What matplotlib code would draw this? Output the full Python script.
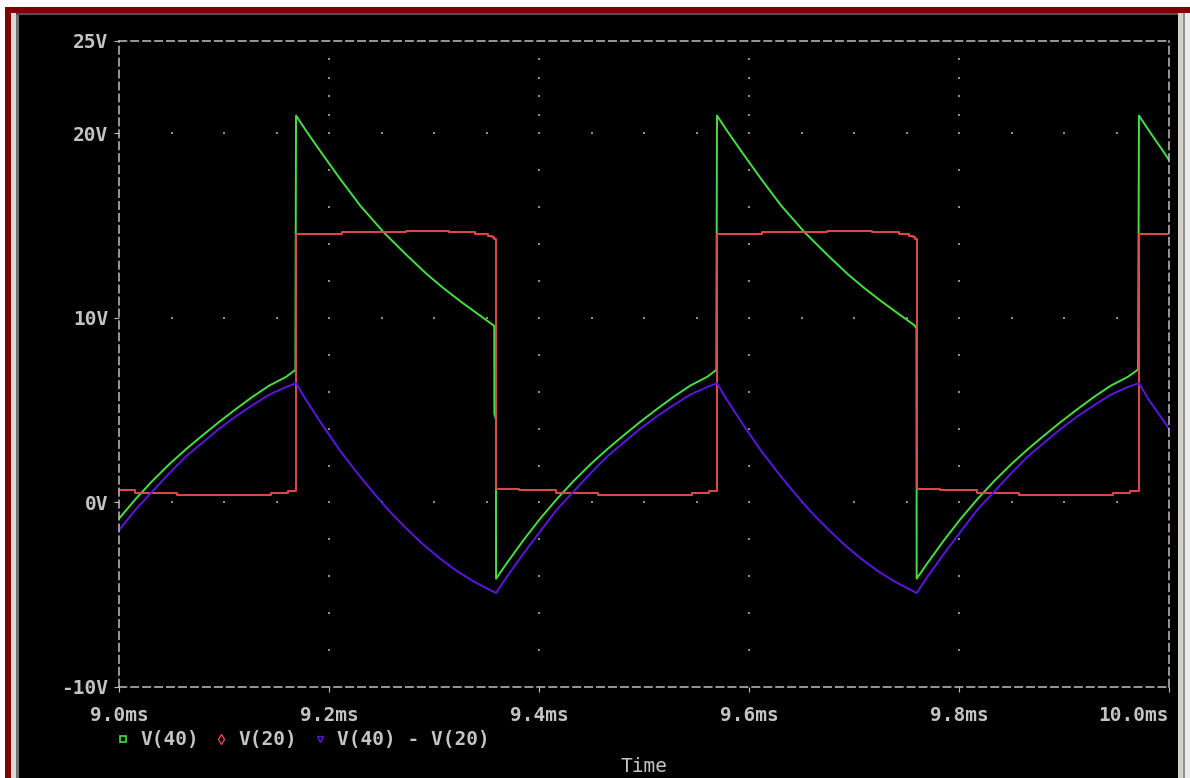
import numpy as np
import matplotlib
matplotlib.use('Agg')
import matplotlib.pyplot as plt
from matplotlib.patches import Rectangle
from matplotlib.lines import Line2D

# 字体设置：等宽字体模拟 PSpice 界面
plt.rcParams['font.family'] = ['DejaVu Sans Mono']
plt.rcParams['font.weight'] = 'bold'
plt.rcParams['lines.scale_dashes'] = False

# V(40) 波形 (时间 ms, 电压 V)
t_v40 = [9.0000, 9.0159, 9.0319, 9.0479, 9.0639, 9.0791, 9.0951, 9.1111, 9.1271, 9.1431, 9.1591, 9.1680,
         9.1686, 9.1791, 9.1946, 9.2106, 9.2296, 9.2520, 9.2743, 9.2933, 9.3092, 9.3251, 9.3410, 9.3568,
         9.3574, 9.3575, 9.3590, 9.3591,
         9.3691, 9.3851, 9.4011, 9.4171, 9.4331, 9.4491, 9.4651, 9.4801, 9.4961, 9.5121, 9.5281, 9.5441,
         9.5601, 9.5689,
         9.5695, 9.5800, 9.5955, 9.6115, 9.6305, 9.6529, 9.6752, 9.6942, 9.7101, 9.7260, 9.7419, 9.7577,
         9.7595, 9.7597,
         9.7697, 9.7857, 9.8017, 9.8177, 9.8337, 9.8497, 9.8657, 9.8807, 9.8967, 9.9127, 9.9287, 9.9447,
         9.9607, 9.9706,
         9.9714, 9.9819, 9.9972, 10.0000]
v40 = [-0.88, 0.19, 1.17, 2.07, 2.89, 3.61, 4.35, 5.05, 5.72, 6.33, 6.80, 7.18,
       20.96, 20.06, 18.80, 17.53, 16.09, 14.64, 13.38, 12.36, 11.60, 10.90, 10.24, 9.59,
       9.55, 4.80, 4.50, -4.13,
       -3.31, -2.05, -0.88, 0.19, 1.17, 2.07, 2.89, 3.61, 4.35, 5.05, 5.72, 6.33,
       6.80, 7.18,
       20.96, 20.06, 18.80, 17.53, 16.09, 14.64, 13.38, 12.36, 11.60, 10.90, 10.24, 9.59,
       9.44, -4.13,
       -3.31, -2.05, -0.88, 0.19, 1.17, 2.07, 2.89, 3.61, 4.35, 5.05, 5.72, 6.33,
       6.80, 7.20,
       20.96, 20.06, 18.80, 18.55]

# V(20) 波形 (阶梯)
t_v20 = [9.0000, 9.0151, 9.0551, 9.1451, 9.1611,
         9.1686, 9.2126, 9.2736, 9.3146, 9.3386, 9.3516, 9.3556, 9.3576,
         9.3591, 9.3811, 9.4161, 9.4561, 9.5461, 9.5621,
         9.5695, 9.6124, 9.6743, 9.7171, 9.7425, 9.7520, 9.7565, 9.7585,
         9.7597, 9.7817, 9.8167, 9.8567, 9.9467, 9.9627,
         9.9714, 10.0000]
v20 = [0.65, 0.52, 0.42, 0.52, 0.61,
       14.55, 14.64, 14.73, 14.64, 14.55, 14.46, 14.37, 14.28,
       0.74, 0.65, 0.52, 0.42, 0.52, 0.61,
       14.55, 14.64, 14.73, 14.64, 14.55, 14.46, 14.37, 14.28,
       0.74, 0.65, 0.52, 0.42, 0.52, 0.61,
       14.55, 14.55]

# V(40) - V(20) 波形
t_diff = [9.0000, 9.0159, 9.0319, 9.0479, 9.0639, 9.0791, 9.0951, 9.1111, 9.1271, 9.1431, 9.1591, 9.1686,
          9.1771, 9.1946, 9.2106, 9.2263, 9.2422, 9.2581, 9.2740, 9.2898, 9.3057, 9.3216, 9.3374, 9.3591,
          9.3691, 9.3851, 9.4011, 9.4171, 9.4331, 9.4491, 9.4651, 9.4801, 9.4961, 9.5121, 9.5281, 9.5441,
          9.5601, 9.5695,
          9.5780, 9.5955, 9.6115, 9.6272, 9.6431, 9.6590, 9.6749, 9.6907, 9.7066, 9.7225, 9.7383, 9.7597,
          9.7697, 9.7857, 9.8017, 9.8177, 9.8337, 9.8497, 9.8657, 9.8807, 9.8967, 9.9127, 9.9287, 9.9447,
          9.9607, 9.9714, 9.9799, 10.0000]
v_diff = [-1.50, -0.38, 0.60, 1.58, 2.50, 3.22, 3.98, 4.66, 5.27, 5.84, 6.25, 6.46,
          5.64, 4.12, 2.80, 1.64, 0.53, -0.51, -1.43, -2.28, -3.04, -3.71, -4.27, -4.91,
          -4.05, -2.78, -1.57, -0.38, 0.60, 1.58, 2.50, 3.22, 3.98, 4.66, 5.27, 5.84,
          6.25, 6.46,
          5.64, 4.12, 2.80, 1.64, 0.53, -0.51, -1.43, -2.28, -3.04, -3.71, -4.27, -4.91,
          -4.05, -2.78, -1.57, -0.38, 0.60, 1.58, 2.50, 3.22, 3.98, 4.66, 5.27, 5.84,
          6.25, 6.46, 5.64, 3.99]

x_ticks = [9.0, 9.2, 9.4, 9.6, 9.8, 10.0]
x_labels = ['9.0ms', '9.2ms', '9.4ms', '9.6ms', '9.8ms', '10.0ms']
y_ticks = [-10, 0, 10, 20, 25]
y_labels = ['-10V', '0V', '10V', '20V', '25V']
names = ['V(40)', 'V(20)', 'V(40) - V(20)']

c_green = '#44e044'
c_red = '#e04a4a'
c_blue = '#5a16e2'
c_text = '#c4c4c4'
c_axis = '#c0c0c0'

W, H = 1190, 778
fig = plt.figure(figsize=(W / 100, H / 100), dpi=100, facecolor='white')


def px_rect(x0, y0, x1, y1, color):
    """按像素坐标(左上为原点)画窗口边框"""
    fig.add_artist(Rectangle((x0 / W, 1 - y1 / H), (x1 - x0) / W, (y1 - y0) / H,
                             transform=fig.transFigure, facecolor=color,
                             edgecolor='none', zorder=-10))


# 窗口外框
px_rect(5, 7, W, 13, '#800000')
px_rect(5, 7, 11, H, '#800000')
px_rect(11, 13, 16, H, '#dcd8d4')
px_rect(16, 13, 19, H, '#707070')
px_rect(16, 13, 1178, 15, '#505050')
px_rect(19, 15, 1178, H, 'black')
px_rect(1178, 13, 1183, H, '#d4d0c8')
px_rect(1183, 13, 1185, H, '#909090')
px_rect(1185, 13, W, H, '#ececec')

ax = fig.add_axes([119 / W, 1 - 687 / H, 1050 / W, 646 / H])
ax.set_facecolor('black')
ax.set_xlim(9.0, 10.0)
ax.set_ylim(-10, 25)

# 网格点
major_x = x_ticks[1:-1]
major_y = [0, 10, 20]
row_x = np.arange(9.05, 9.96, 0.05)
for yv in major_y:
    ax.scatter(row_x, np.full(len(row_x), yv), s=1.0, marker='s', color='#8c8c8c', linewidths=0, zorder=1)
col_y = [-8, -6, -4, -2, 2, 4, 6, 8, 12, 14, 16, 18, 21, 22, 23, 24]
for xv in major_x:
    ax.scatter(np.full(len(col_y), xv), col_y, s=1.0, marker='s', color='#8c8c8c', linewidths=0, zorder=1)

# 曲线
ax.plot(t_v40, v40, color=c_green, lw=1.4, zorder=3)
ax.plot(t_v20, v20, color=c_red, lw=1.4, drawstyle='steps-post', zorder=4)
ax.plot(t_diff, v_diff, color=c_blue, lw=1.4, zorder=5)

# 坐标轴样式
for s in ax.spines.values():
    s.set_color(c_axis)
    s.set_linewidth(1.1)
    s.set_linestyle((0, (5.4, 3.2)))
    s.set_zorder(6)

ax.set_xticks(x_ticks, x_labels)
ax.set_yticks(y_ticks, y_labels)
ax.tick_params(colors=c_axis, labelcolor=c_text, labelsize=14, length=3.6, width=0.8, direction='out')
ax.tick_params(axis='x', pad=10)
ax.tick_params(axis='y', pad=4)
# 最后一个刻度标签右对齐到坐标轴末端
ax.get_xticklabels()[-1].set_horizontalalignment('right')

ax.set_xlabel('Time', fontsize=14, color=c_text)
ax.xaxis.set_label_coords(0.5, -(757 - 687) / 646)

# 图例
handles = [
    Line2D([], [], ls='none', marker='s', ms=4.5, mfc='none', mec=c_green, mew=1.2),
    Line2D([], [], ls='none', marker='d', ms=5, mfc='none', mec=c_red, mew=1.0),
    Line2D([], [], ls='none', marker='v', ms=5, mfc='none', mec=c_blue, mew=1.0),
]
leg = fig.legend(handles, names, loc='center left', bbox_to_anchor=(115 / W, 1 - 740 / H),
                 ncol=3, frameon=False, fontsize=14, handlelength=0.8, handletextpad=0.5,
                 columnspacing=0.75, borderpad=0, borderaxespad=0)
for txt in leg.get_texts():
    txt.set_color(c_text)

fig.savefig('out.png', dpi=100, facecolor=fig.get_facecolor())
